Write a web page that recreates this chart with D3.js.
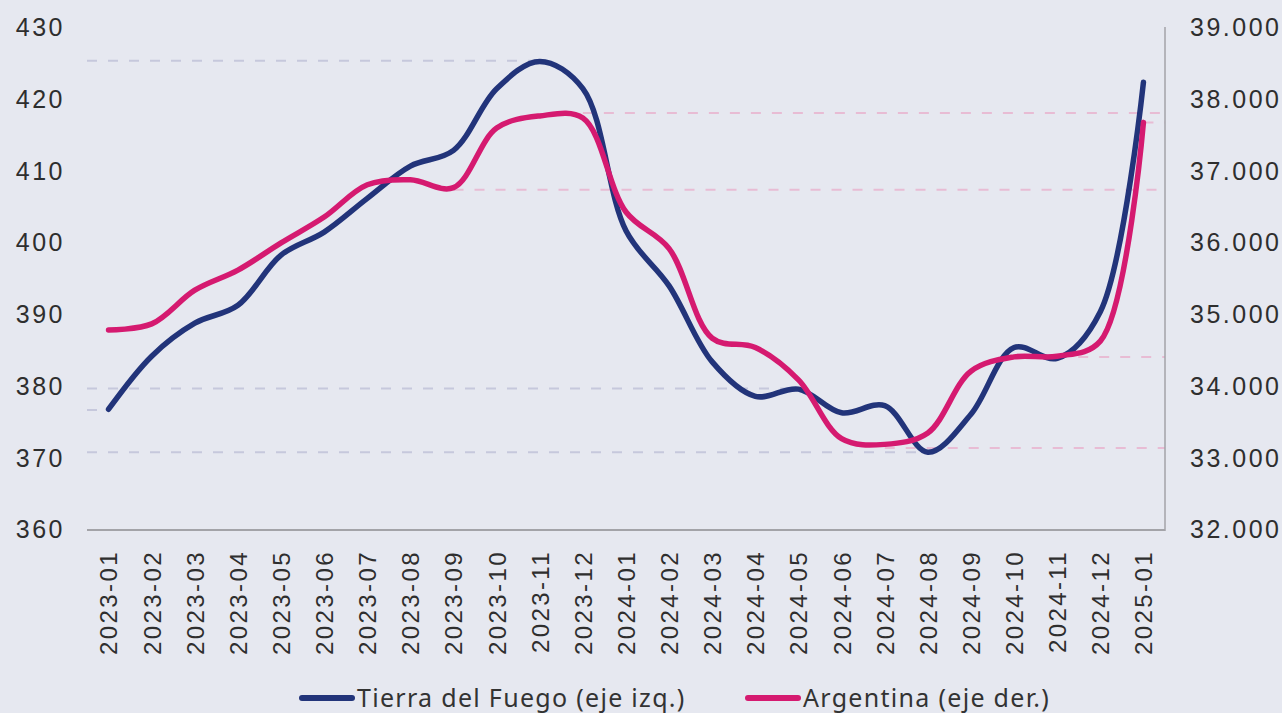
<!DOCTYPE html>
<html lang="es">
<head>
<meta charset="utf-8">
<script src="https://cdn.jsdelivr.net/npm/d3@7"></script>
<style>
  body { margin: 0; background: #e6e8f0; }
  svg { display: block; font-family: "Noto Sans", "Open Sans", sans-serif; }
  .tick text { fill: #2e2e2e; }
</style>
</head>
<body>
<svg width="1282" height="713"></svg>
<script>
// data
var months = ["2023-01","2023-02","2023-03","2023-04","2023-05","2023-06","2023-07","2023-08","2023-09","2023-10","2023-11","2023-12",
              "2024-01","2024-02","2024-03","2024-04","2024-05","2024-06","2024-07","2024-08","2024-09","2024-10","2024-11","2024-12","2025-01"];
var tdf = [376.7, 384.1, 388.7, 391.2, 398.2, 401.4, 406.1, 410.6, 412.8, 421.4, 425.2, 421.4,
           401.6, 393.9, 383.3, 378.5, 379.5, 376.2, 377.2, 370.7, 376.0, 385.3, 383.8, 390.3, 422.3];
var arg = [34775, 34860, 35330, 35610, 35990, 36350, 36800, 36870, 36760, 37590, 37760, 37730,
           36420, 35910, 34660, 34530, 34080, 33260, 33180, 33340, 34200, 34400, 34410, 34620, 37670];
var leftTicks = [360, 370, 380, 390, 400, 410, 420, 430];
var rightTicks = [32000, 33000, 34000, 35000, 36000, 37000, 38000, 39000];
// dashed reference lines: left ones run from the axis to a month, right ones from a month to the axis
var refLeftVals = [425.3, 379.6, 376.6, 370.7];
var refLeftTo = ["2023-11", "2024-05", "2023-01", "2024-08"];
var refRightVals = [37800, 37670, 36730, 34400, 33130];
var refRightFrom = ["2023-12", "2025-01", "2023-09", "2024-11", "2024-07"];

var svg = d3.select("svg");
var x0 = 87, x1 = 1165, yTop = 27, yBot = 529;

var x = d3.scalePoint().domain(months).range([x0, x1]).padding(0.5);
var yL = d3.scaleLinear().domain([360, 430]).range([yBot, yTop]);
var yR = d3.scaleLinear().domain([32000, 39000]).range([yBot, yTop]);

var es = d3.formatLocale({decimal: ",", thousands: ".", grouping: [3], currency: ["$", ""]});
var fmtR = es.format(",.0f");

// reference lines
svg.append("g").selectAll("line").data(refLeftVals).enter().append("line")
  .attr("x1", x0).attr("x2", function(d, i) { return x(refLeftTo[i]); })
  .attr("y1", function(d) { return yL(d); }).attr("y2", function(d) { return yL(d); })
  .attr("stroke", "#c6c8dc").attr("stroke-width", 2).attr("stroke-dasharray", "10,11");

svg.append("g").selectAll("line").data(refRightVals).enter().append("line")
  .attr("x1", function(d, i) { return x(refRightFrom[i]); }).attr("x2", x1)
  .attr("y1", function(d) { return yR(d); }).attr("y2", function(d) { return yR(d); })
  .attr("stroke", "#e8bcd4").attr("stroke-width", 2).attr("stroke-dasharray", "10,11");

// axes
var gl = svg.append("g").attr("transform", "translate(" + (x0 - 22) + ",0)")
  .call(d3.axisLeft(yL).tickValues(leftTicks).tickSize(0).tickPadding(0));
gl.select(".domain").remove();
gl.selectAll("text").style("font-size", "25px").style("letter-spacing", "2.5px").attr("dy", "0.35em");

var gr = svg.append("g").attr("transform", "translate(" + (x1 + 25) + ",0)")
  .call(d3.axisRight(yR).tickValues(rightTicks).tickFormat(fmtR).tickSize(0).tickPadding(0));
gr.select(".domain").remove();
gr.selectAll("text").style("font-size", "25px").style("letter-spacing", "2.5px").attr("dy", "0.35em");

var gx = svg.append("g").attr("transform", "translate(0," + yBot + ")")
  .call(d3.axisBottom(x).tickSize(0).tickPadding(0));
gx.select(".domain").remove();
gx.selectAll("text")
  .style("font-size", "24px")
  .style("letter-spacing", "2.4px")
  .attr("text-anchor", "end")
  .attr("transform", "translate(0,21) rotate(-90)")
  .attr("dy", "0.35em").attr("y", 0);

// frame lines
svg.append("line").attr("x1", x0).attr("x2", x1).attr("y1", yBot + 1).attr("y2", yBot + 1)
  .attr("stroke", "#a3a3a8").attr("stroke-width", 2);
svg.append("line").attr("x1", x1).attr("x2", x1).attr("y1", yTop).attr("y2", yBot + 2)
  .attr("stroke", "#a3a3a8").attr("stroke-width", 1.5);

// series
var lineL = d3.line().x(function(d, i) { return x(months[i]); }).y(function(d) { return yL(d); })
  .curve(d3.curveCatmullRom.alpha(0.5));
var lineR = d3.line().x(function(d, i) { return x(months[i]); }).y(function(d) { return yR(d); })
  .curve(d3.curveCatmullRom.alpha(0.5));

svg.append("path").datum(tdf).attr("d", lineL).attr("fill", "none")
  .attr("stroke", "#22347a").attr("stroke-width", 5.5).attr("stroke-linecap", "round");
svg.append("path").datum(arg).attr("d", lineR).attr("fill", "none")
  .attr("stroke", "#d51a70").attr("stroke-width", 5.5).attr("stroke-linecap", "round");

// legend
var legend = [{name: "Tierra del Fuego (eje izq.)", color: "#22347a", x: 302},
              {name: "Argentina (eje der.)", color: "#d51a70", x: 748}];
var lg = svg.append("g").selectAll("g").data(legend).enter().append("g")
  .attr("transform", function(d) { return "translate(" + d.x + ",698)"; });
lg.append("line").attr("x1", 0).attr("x2", 50).attr("stroke", function(d) { return d.color; })
  .attr("stroke-width", 6).attr("stroke-linecap", "round");
lg.append("text").attr("x", 55).attr("dy", "0.35em").style("font-size", "25px")
  .style("letter-spacing", "1.3px").attr("fill", "#333")
  .text(function(d) { return d.name; });
</script>
</body>
</html>
